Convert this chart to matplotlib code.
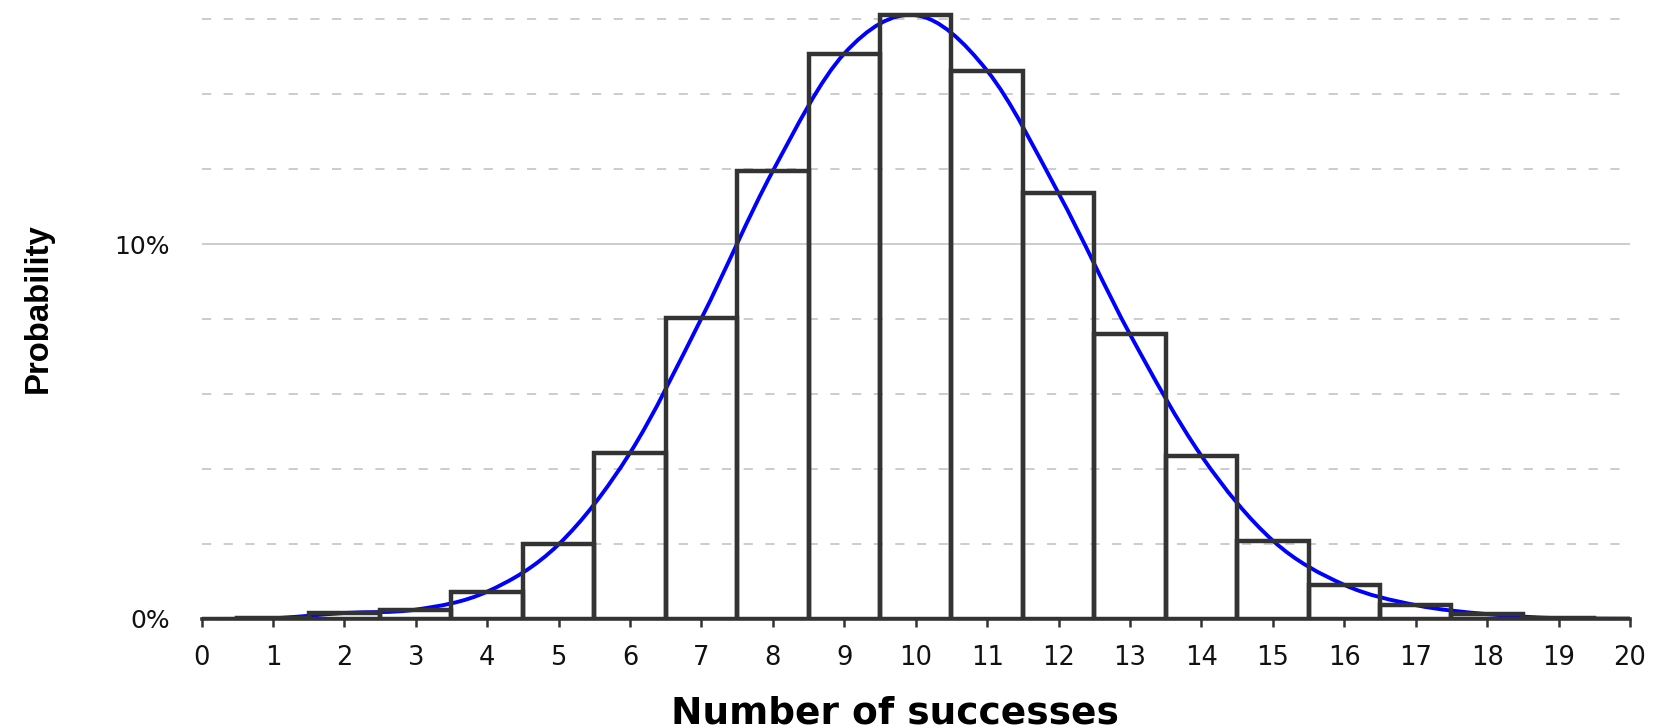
import matplotlib
matplotlib.use("Agg")
import matplotlib.pyplot as plt
from matplotlib.path import Path
from matplotlib.patches import PathPatch
import numpy as np

# observed share of trials (in %) for each number of successes
successes = list(range(21))
probability = [0.0, 0.02, 0.16, 0.25, 0.73, 1.99, 4.43, 8.02, 11.95, 15.08,
               16.1, 14.62, 11.35, 7.59, 4.35, 2.09, 0.91, 0.37, 0.13, 0.02, 0.0]

major_ticks = [0, 10]
major_labels = ["0%", "10%"]
minor_ticks = [2, 4, 6, 8, 12, 14, 16]


def smooth_path(xs, ys):
    """Catmull-Rom style bezier through the points (like a spreadsheet's smoothed line)."""
    pts = np.column_stack([xs, ys]).astype(float)
    n = len(pts)
    verts = [pts[0]]
    codes = [Path.MOVETO]
    for i in range(n - 1):
        p0 = pts[max(i - 1, 0)]
        p1 = pts[i]
        p2 = pts[i + 1]
        p3 = pts[min(i + 2, n - 1)]
        verts += [p1 + (p2 - p0) / 6.0, p2 - (p3 - p1) / 6.0, p2]
        codes += [Path.CURVE4] * 3
    return Path(verts, codes)


W, H = 1663, 728
fig = plt.figure(figsize=(W / 100, H / 100), dpi=100)
ax = fig.add_axes([201.5 / W, 109 / H, 1428.5 / W, 619 / H])

ax.set_xlim(0, 20)
ax.set_ylim(0, 619 / 37.5)

# smoothed curve under the bar outlines
curve = PathPatch(smooth_path(successes, probability), fill=False,
                  edgecolor="#0000ff", linewidth=2.8, zorder=2,
                  capstyle="round", joinstyle="round")
ax.add_patch(curve)

ax.bar(successes, probability, width=1.0, fill=False, edgecolor="#333333",
       linewidth=3.2, zorder=3)

# axes styling
for side in ["left", "top", "right"]:
    ax.spines[side].set_visible(False)
ax.spines["bottom"].set_color("#333333")
ax.spines["bottom"].set_linewidth(2.6)
ax.spines["bottom"].set_zorder(4)

ax.set_xticks(successes)
ax.set_xticklabels([str(s) for s in successes], fontsize=18.5, color="#111111")
ax.tick_params(axis="x", length=6, width=1.8, color="#333333", pad=13,
               direction="out")

ax.set_yticks(major_ticks)
ax.set_yticklabels(major_labels, fontsize=18, color="#111111")
ax.set_yticks(minor_ticks, minor=True)
ax.tick_params(axis="y", which="both", length=0, pad=23)

ax.yaxis.grid(True, which="major", color="#c4c4c4", linewidth=1.2,
              linestyle="-", zorder=0)
ax.yaxis.grid(True, which="minor", color="#c4c4c4", linewidth=1.2,
              linestyle=(0, (5.5, 7.5)), zorder=0)
ax.xaxis.grid(False)
ax.set_axisbelow(True)

ylab = fig.text(38 / W, 1 - 308 / H, "Probability", rotation=90, ha="center",
                va="center", fontsize=28, fontweight="bold",
                family=["Liberation Sans Narrow", "Liberation Sans",
                        "DejaVu Sans"])
# squeeze the label to the length it has in the original (about 170 px)
ext = ylab.get_window_extent(fig.canvas.get_renderer())
ylab.set_fontsize(28 * 170 / ext.height)

fig.text(895 / W, 5 / H, "Number of successes", ha="center",
         va="baseline", fontsize=27, fontweight="bold", family="DejaVu Sans")

fig.savefig("out.png", dpi=100, facecolor="white")
